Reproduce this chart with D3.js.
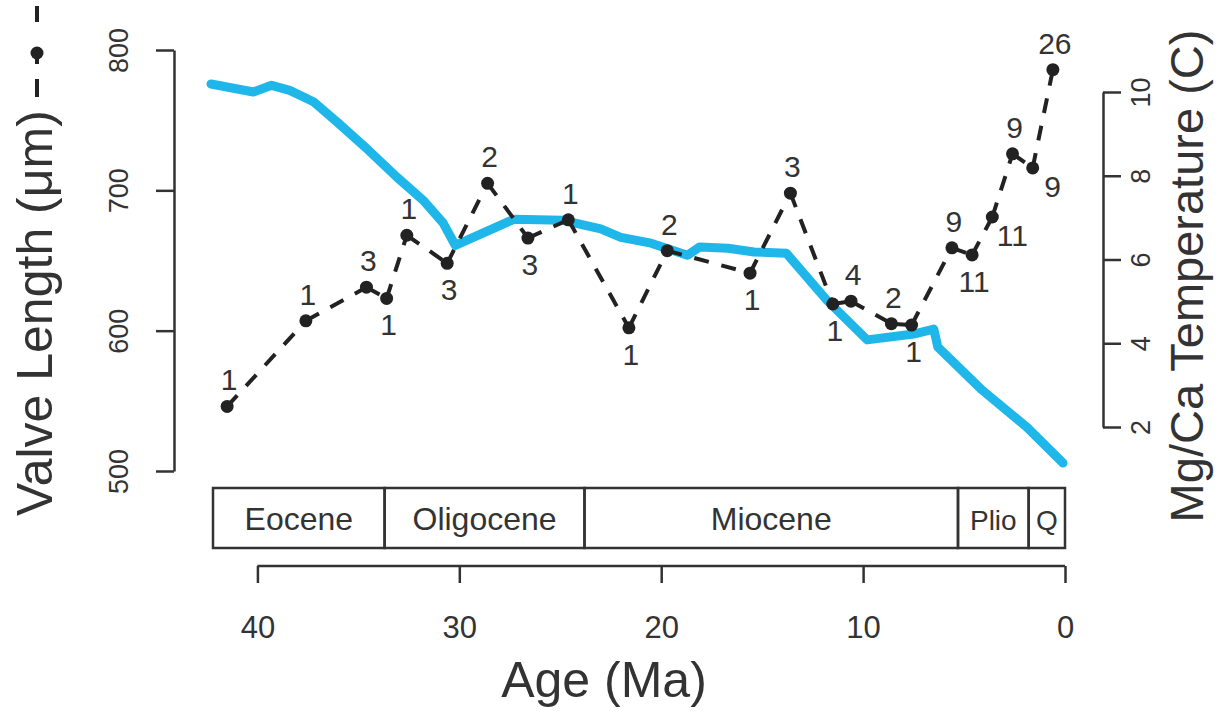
<!DOCTYPE html>
<html>
<head>
<meta charset="utf-8">
<script src="https://cdn.jsdelivr.net/npm/d3@7/dist/d3.min.js"></script>
<style>
  body { margin: 0; background: #fff; }
  svg { display: block; }
  text { font-family: "Liberation Sans", Arial, sans-serif; fill: #333; }
</style>
</head>
<body>
<svg id="chart" width="1218" height="711"></svg>
<script>
// valve length samples (black dashed series)
var ages = [41.5, 37.6, 34.6, 33.6, 32.6, 30.6, 28.6, 26.6, 24.6, 21.6, 19.7, 15.6,
            13.6, 11.5, 10.6, 8.6, 7.6, 5.6, 4.6, 3.6, 2.6, 1.6, 0.6];
var valveLength = [546, 607, 631, 623, 668, 648, 705, 666, 679, 602, 657, 641,
                   698, 619, 621, 605, 604, 659, 654, 681, 726, 716, 786];
var sampleN = [1, 1, 3, 1, 1, 3, 2, 3, 1, 1, 2, 1, 3, 1, 4, 2, 1, 9, 11, 11, 9, 9, 26];
var labelSide = ["above", "above", "above", "below", "above", "below", "above", "below",
                 "above", "below", "above", "below", "above", "below", "above", "above",
                 "below", "above", "below", "right", "above", "right", "above"];

// Mg/Ca temperature curve (blue)
var tempAge = [42.3, 40.2, 39.3, 38.4, 37.2, 36.0, 34.5, 33.1, 31.8, 30.8, 30.2, 27.3,
               24.9, 23.0, 22.0, 20.5, 18.7, 18.1, 16.7, 15.4, 13.8, 11.8, 9.8, 7.5,
               6.5, 6.3, 4.1, 1.9, 0.1];
var tempC = [10.19, 10.0, 10.16, 10.04, 9.76, 9.26, 8.61, 7.97, 7.42, 6.87, 6.34, 6.96,
             6.94, 6.73, 6.53, 6.39, 6.10, 6.30, 6.27, 6.18, 6.15, 5.03, 4.08, 4.22,
             4.34, 3.91, 2.88, 2.0, 1.14];

// epochs
var epochNames = ["Eocene", "Oligocene", "Miocene", "Plio", "Q"];
var epochBounds = [42.2, 33.7, 23.8, 5.3, 1.8, 0];

var ageTicks = [40, 30, 20, 10, 0];
var lengthTicks = [500, 600, 700, 800];
var tempTicks = [2, 4, 6, 8, 10];

var svg = d3.select("#chart");
var ink = "#333";

var x = d3.scaleLinear().domain([42.2, 0]).range([213, 1065]);
var yL = d3.scaleLinear().domain([500, 800]).range([471, 50]);
var yR = d3.scaleLinear().domain([2, 10]).range([427, 92]);

// ---- left axis
var gL = svg.append("g").attr("transform", "translate(174,0)")
    .call(d3.axisLeft(yL).tickValues(lengthTicks).tickSize(18).tickSizeOuter(0).tickFormat(d3.format("d")));
gL.select(".domain").attr("stroke", ink).attr("stroke-width", 2.5);
gL.selectAll(".tick line").attr("stroke", ink).attr("stroke-width", 2.5);
gL.selectAll(".tick text")
    .attr("font-size", 27).attr("x", 0).attr("dy", 0).attr("fill", ink)
    .attr("text-anchor", "middle")
    .attr("transform", "translate(-55,0) rotate(-90)")
    .attr("y", 0).attr("dominant-baseline", "central");

// ---- right axis
var gR = svg.append("g").attr("transform", "translate(1103,0)")
    .call(d3.axisRight(yR).tickValues(tempTicks).tickSize(18).tickSizeOuter(0).tickFormat(d3.format("d")));
gR.select(".domain").attr("stroke", ink).attr("stroke-width", 2.5);
gR.selectAll(".tick line").attr("stroke", ink).attr("stroke-width", 2.5);
gR.selectAll(".tick text")
    .attr("font-size", 27).attr("x", 0).attr("dy", 0).attr("fill", ink)
    .attr("text-anchor", "middle")
    .attr("transform", "translate(38,0) rotate(-90)")
    .attr("y", 0).attr("dominant-baseline", "central");

// ---- bottom axis
var gB = svg.append("g").attr("transform", "translate(0,566)")
    .call(d3.axisBottom(x).tickValues(ageTicks).tickSize(17).tickSizeOuter(0).tickFormat(d3.format("d")));
gB.select(".domain").attr("stroke", ink).attr("stroke-width", 2.5)
    .attr("d", "M" + x(40) + ",0H" + x(0));
gB.selectAll(".tick line").attr("stroke", ink).attr("stroke-width", 2.5);
gB.selectAll(".tick text").attr("font-size", 31).attr("y", 72).attr("dy", 0).attr("fill", ink);

// ---- epoch bar
var epochs = epochNames.map(function (n, i) {
    return {name: n, from: epochBounds[i], to: epochBounds[i + 1]};
});
var eg = svg.append("g");
eg.selectAll("rect").data(epochs).enter().append("rect")
    .attr("x", function (d) { return x(d.from); })
    .attr("width", function (d) { return x(d.to) - x(d.from); })
    .attr("y", 488).attr("height", 60)
    .attr("fill", "none").attr("stroke", ink).attr("stroke-width", 2.5);
eg.selectAll("text").data(epochs).enter().append("text")
    .attr("x", function (d) { return (x(d.from) + x(d.to)) / 2; })
    .attr("y", 530)
    .attr("text-anchor", "middle")
    .attr("font-size", function (d) { return d.name.length < 5 ? 28 : 32; })
    .text(function (d) { return d.name; });

// ---- temperature line
svg.append("path")
    .datum(d3.range(tempAge.length))
    .attr("fill", "none").attr("stroke", "#1fb6e9").attr("stroke-width", 9)
    .attr("stroke-linejoin", "round").attr("stroke-linecap", "round")
    .attr("d", d3.line()
        .x(function (i) { return x(tempAge[i]); })
        .y(function (i) { return yR(tempC[i]); }));

// ---- valve length dashed series
var pts = ages.map(function (a, i) {
    return {x: x(a), y: yL(valveLength[i]), n: sampleN[i], side: labelSide[i]};
});
var segs = d3.pairs(pts);
svg.append("g").selectAll("line").data(segs).enter().append("line")
    .attr("x1", function (d) { return d[0].x; }).attr("y1", function (d) { return d[0].y; })
    .attr("x2", function (d) { return d[1].x; }).attr("y2", function (d) { return d[1].y; })
    .attr("stroke", "#222").attr("stroke-width", 4)
    .attr("stroke-dasharray", "15,13");
svg.append("g").selectAll("circle").data(pts).enter().append("circle")
    .attr("cx", function (d) { return d.x; }).attr("cy", function (d) { return d.y; })
    .attr("r", 6.5).attr("fill", "#222");
svg.append("g").selectAll("text").data(pts).enter().append("text")
    .attr("font-size", 30).attr("text-anchor", "middle")
    .attr("x", function (d) { return d.x + (d.side === "right" ? 20 : 2); })
    .attr("y", function (d) {
        if (d.side === "above") return d.y - 16;
        if (d.side === "below") return d.y + 37;
        return d.y + 29;
    })
    .text(function (d) { return d.n; });

// ---- axis titles
var lt = svg.append("g").attr("transform", "translate(52,516) rotate(-90)");
lt.append("text").attr("font-size", 50).attr("x", 0).attr("y", 0).text("Valve Length (\u03bcm)");
// legend sample for the dashed series
var lg = svg.append("g").attr("transform", "translate(37,0)");
lg.append("line").attr("x1", 0).attr("x2", 0).attr("y1", 97).attr("y2", 79)
    .attr("stroke", "#222").attr("stroke-width", 4);
lg.append("line").attr("x1", 0).attr("x2", 0).attr("y1", 64).attr("y2", 53)
    .attr("stroke", "#222").attr("stroke-width", 4);
lg.append("circle").attr("cx", 0).attr("cy", 53).attr("r", 6.5).attr("fill", "#222");
lg.append("line").attr("x1", 0).attr("x2", 0).attr("y1", 22).attr("y2", 6)
    .attr("stroke", "#222").attr("stroke-width", 4);

svg.append("text").attr("transform", "translate(1203,276) rotate(-90)")
    .attr("text-anchor", "middle").attr("font-size", 47)
    .text("Mg/Ca Temperature (C)");

svg.append("text").attr("x", 604).attr("y", 697).attr("text-anchor", "middle")
    .attr("font-size", 50).text("Age (Ma)");
</script>
</body>
</html>
